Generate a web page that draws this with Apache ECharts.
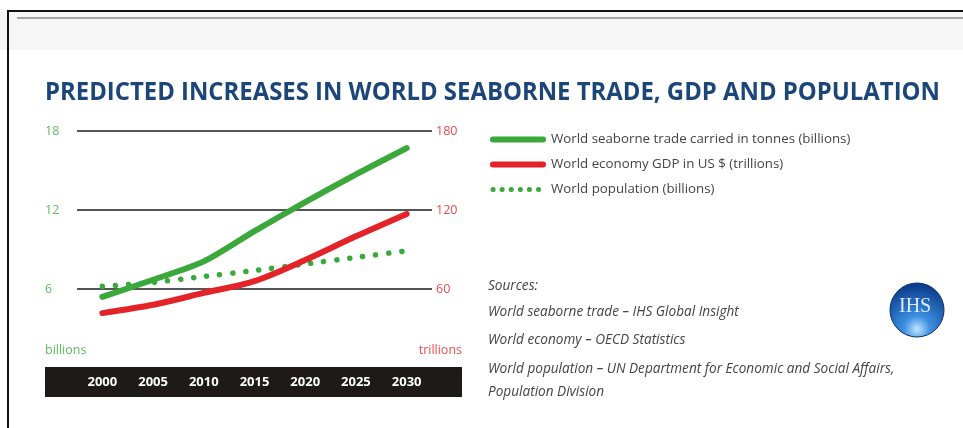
<!DOCTYPE html>
<html>
<head>
<meta charset="utf-8">
<script src="https://cdn.jsdelivr.net/npm/echarts@6/dist/echarts.min.js"></script>
<style>
html,body{margin:0;padding:0;background:#fff;}
#chart{width:963px;height:428px;}
</style>
</head>
<body>
<div id="chart"></div>
<script>
const years = ['2000', '2005', '2010', '2015', '2020', '2025', '2030'];
const seaborneTrade = [5.4, 6.7, 8.1, 10.4, 12.6, 14.7, 16.7];   // billions of tonnes
const worldGDP = [41.7, 48, 57, 66, 82, 100, 117];              // trillions US$
const worldPopulation = [6.2, 6.5, 6.95, 7.4, 7.9, 8.4, 8.9];   // billions
const leftTicks = [0, 18, 6];     // min, max, interval
const rightTicks = [0, 180, 60];

const seriesNames = [
  'World seaborne trade carried in tonnes (billions)',
  'World economy GDP in US $ (trillions)',
  'World population (billions)'
];
const titleText = 'PREDICTED INCREASES IN WORLD SEABORNE TRADE, GDP AND POPULATION';
const sourceLines = [
  'Sources:',
  'World seaborne trade – IHS Global Insight',
  'World economy – OECD Statistics',
  'World population – UN Department for Economic and Social Affairs,',
  'Population Division'
];

const GREEN = '#3aa83a';
const GREEN_TXT = '#5dbb5a';
const RED = '#e42328';
const RED_TXT = '#ee4b4f';

const TITLE_FONT = 'bold 25px "Open Sans",sans-serif';
const cv = document.createElement('canvas').getContext('2d');
cv.font = TITLE_FONT;
const titleScale = 895 / cv.measureText(titleText).width;

const chart = echarts.init(document.getElementById('chart'));
const sourceY = [285, 311, 339, 368, 391];

chart.setOption({
  backgroundColor: '#ffffff',
  animation: false,
  grid: { left: 77, right: 531, top: 131, bottom: 60 },
  legend: {
    orient: 'vertical', left: 490, top: 133, padding: 0, itemWidth: 50, itemHeight: 14, itemGap: 12,
    textStyle: { fontFamily: '"Open Sans",sans-serif', fontSize: 13.3, color: '#444', padding: [0, 0, 0, 3] },
    data: [
      { name: seriesNames[0], itemStyle: { opacity: 0 }, lineStyle: { width: 6, color: GREEN, cap: 'round' } },
      { name: seriesNames[1], itemStyle: { opacity: 0 }, lineStyle: { width: 6, color: RED, cap: 'round' } },
      { name: seriesNames[2], itemStyle: { opacity: 0 }, lineStyle: { width: 5, color: GREEN, type: [0.1, 9], cap: 'round' } }
    ]
  },
  xAxis: {
    type: 'category', data: years, boundaryGap: true, z: 10,
    axisLine: { show: false }, axisTick: { show: false },
    axisLabel: { color: '#fff', fontWeight: 'bold', fontSize: 13, margin: 8, fontFamily: '"Open Sans",sans-serif' }
  },
  yAxis: [
    {
      type: 'value', min: leftTicks[0], max: leftTicks[1], interval: leftTicks[2], position: 'left',
      axisLine: { show: false }, axisTick: { show: false },
      splitLine: { showMinLine: false, lineStyle: { color: '#555', width: 2 } },
      axisLabel: { showMinLabel: false, color: GREEN_TXT, align: 'left', margin: 32, fontSize: 12.5, fontFamily: '"Open Sans",sans-serif' }
    },
    {
      type: 'value', min: rightTicks[0], max: rightTicks[1], interval: rightTicks[2], position: 'right',
      axisLine: { show: false }, axisTick: { show: false }, splitLine: { show: false },
      axisLabel: { showMinLabel: false, color: RED_TXT, align: 'left', margin: 4, fontSize: 12.5, fontFamily: '"Open Sans",sans-serif' }
    }
  ],
  series: [
    {
      name: seriesNames[2], type: 'line', yAxisIndex: 0, data: worldPopulation, symbol: 'none', smooth: 0.2, z: 2,
      lineStyle: { color: GREEN, width: 5.5, type: [0.1, 13], cap: 'round' }, itemStyle: { color: GREEN }
    },
    {
      name: seriesNames[0], type: 'line', yAxisIndex: 0, data: seaborneTrade, symbol: 'none', smooth: 0.25, z: 3,
      lineStyle: { color: GREEN, width: 6, cap: 'round' }, itemStyle: { color: GREEN }
    },
    {
      name: seriesNames[1], type: 'line', yAxisIndex: 1, data: worldGDP, symbol: 'none', smooth: 0.3, z: 3,
      lineStyle: { color: RED, width: 6, cap: 'round' }, itemStyle: { color: RED }
    }
  ],
  graphic: [
    { type: 'rect', z: -10, shape: { x: 0, y: 12, width: 963, height: 38 }, style: { fill: '#f6f6f6' } },
    { type: 'rect', z: -9, shape: { x: 7, y: 10, width: 956, height: 2 }, style: { fill: '#111' } },
    { type: 'rect', z: -9, shape: { x: 7, y: 10, width: 2, height: 418 }, style: { fill: '#111' } },
    { type: 'rect', z: -9, shape: { x: 17, y: 17, width: 946, height: 2 }, style: { fill: '#a5a5a5' } },
    { type: 'rect', z: -5, shape: { x: 45, y: 367, width: 417, height: 30 }, style: { fill: '#1e1a1a' } },
    {
      type: 'text', x: 45, y: 93, scaleX: titleScale,
      style: { text: titleText, fill: '#1b4677', font: TITLE_FONT, textVerticalAlign: 'middle' }
    },
    { type: 'text', left: 45, top: 344, style: { text: 'billions', fill: GREEN_TXT, font: '12.5px "Open Sans",sans-serif' } },
    { type: 'text', right: 963 - 462, top: 344, style: { text: 'trillions', fill: RED_TXT, font: '12.5px "Open Sans",sans-serif' } },
    ...sourceLines.map((t, i) => ({
      type: 'text', left: 488, top: sourceY[i] - 6,
      style: { text: t, fill: '#444', font: 'italic 13.6px "Open Sans",sans-serif' }
    })),
    {
      type: 'circle', shape: { cx: 917, cy: 310, r: 27 },
      style: {
        fill: new echarts.graphic.RadialGradient(0.5, 0.85, 0.8, [
          { offset: 0, color: '#bfe6ff' }, { offset: 0.3, color: '#3d8fe0' }, { offset: 1, color: '#0b3e8c' }
        ]),
        stroke: '#0a2f6b', lineWidth: 1
      }
    },
    { type: 'text', left: 899, top: 297, style: { text: 'IHS', fill: '#dcecff', font: '20px "Liberation Serif",serif' } }
  ]
});
</script>
</body>
</html>
